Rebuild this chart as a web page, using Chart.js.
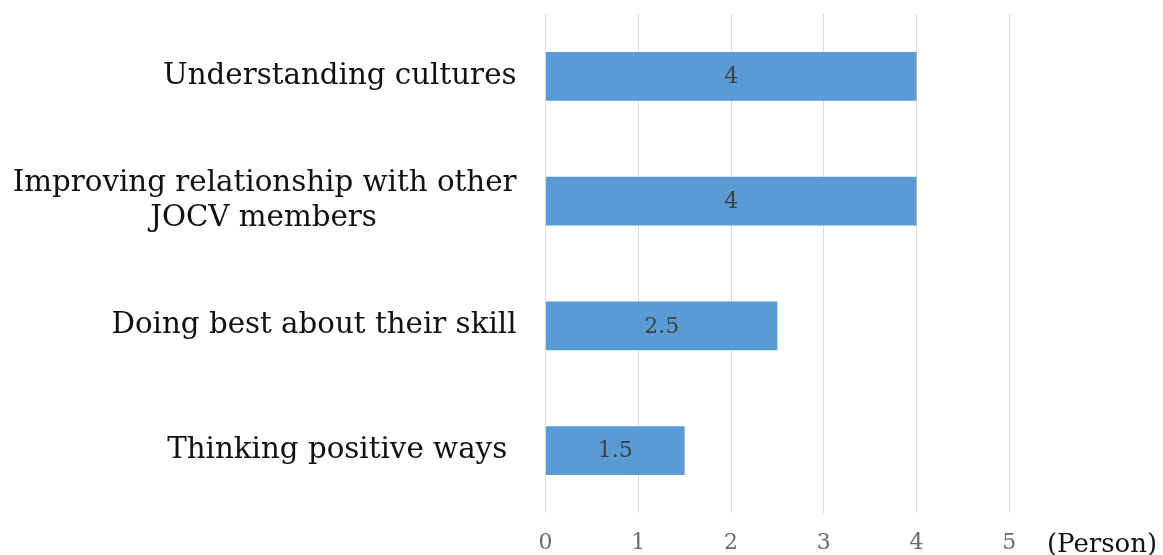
<!DOCTYPE html>
<html>
<head>
<meta charset="utf-8">
<script src="https://cdn.jsdelivr.net/npm/chart.js@4/dist/chart.umd.min.js"></script>
<style>
html,body{margin:0;padding:0;background:#fff;}
#wrap{width:1163px;height:555px;}
</style>
</head>
<body>
<div id="wrap"><canvas id="c" width="1163" height="555"></canvas></div>
<script>
// ---- data ----
const categories = [
  'Understanding cultures',
  ['Improving relationship with other', 'JOCV members               '],
  'Doing best about their skill',
  'Thinking positive ways '
];
const values = [4, 4, 2.5, 1.5];
const tickLabels = ['0', '1', '2', '3', '4', '5', '(Person)'];

const FONT = 'DejaVu Serif';

const valueLabels = {
  id: 'valueLabels',
  afterDatasetsDraw(chart) {
    const ctx = chart.ctx;
    const meta = chart.getDatasetMeta(0);
    ctx.save();
    ctx.font = '22px "' + FONT + '"';
    ctx.fillStyle = '#404040';
    ctx.textAlign = 'center';
    ctx.textBaseline = 'middle';
    meta.data.forEach((el, i) => {
      const p = el.getProps(['x', 'y', 'base'], true);
      ctx.fillText(String(chart.data.datasets[0].data[i]), (p.x + p.base) / 2, p.y + 1);
    });
    ctx.restore();
  }
};

function noPad(s) {
  s.paddingTop = 0; s.paddingBottom = 0; s.paddingLeft = 0; s.paddingRight = 0;
}

new Chart(document.getElementById('c'), {
  type: 'bar',
  data: {
    labels: categories,
    datasets: [{
      data: values,
      backgroundColor: '#5B9BD5',
      borderWidth: 0,
      categoryPercentage: 1,
      barPercentage: 0.392
    }]
  },
  options: {
    indexAxis: 'y',
    responsive: false,
    animation: false,
    layout: { padding: { top: 14, right: 61, left: 0, bottom: 0 } },
    plugins: { legend: { display: false }, tooltip: { enabled: false } },
    scales: {
      x: {
        type: 'linear',
        min: 0,
        max: 6,
        afterFit(s) { s.height = 42; noPad(s); },
        border: { display: false },
        grid: {
          drawTicks: false,
          lineWidth: 1,
          color: c => (c.tick && c.tick.value === 6) ? 'rgba(0,0,0,0)' : '#d9d9d9'
        },
        ticks: {
          stepSize: 1,
          autoSkip: false,
          maxRotation: 0,
          padding: 17,
          callback: v => tickLabels[v],
          color: c => (c.tick && c.tick.value === 6) ? '#111' : '#6a6a6a',
          font: c => ({ family: FONT, size: (c.tick && c.tick.value === 6) ? 26 : 22 })
        }
      },
      y: {
        afterFit(s) { s.width = 545.5; noPad(s); },
        border: { display: false },
        grid: { display: false, drawTicks: false },
        ticks: {
          padding: 29,
          color: '#111',
          font: { family: FONT, size: 29.3 }
        }
      }
    }
  },
  plugins: [valueLabels]
});
</script>
</body>
</html>
